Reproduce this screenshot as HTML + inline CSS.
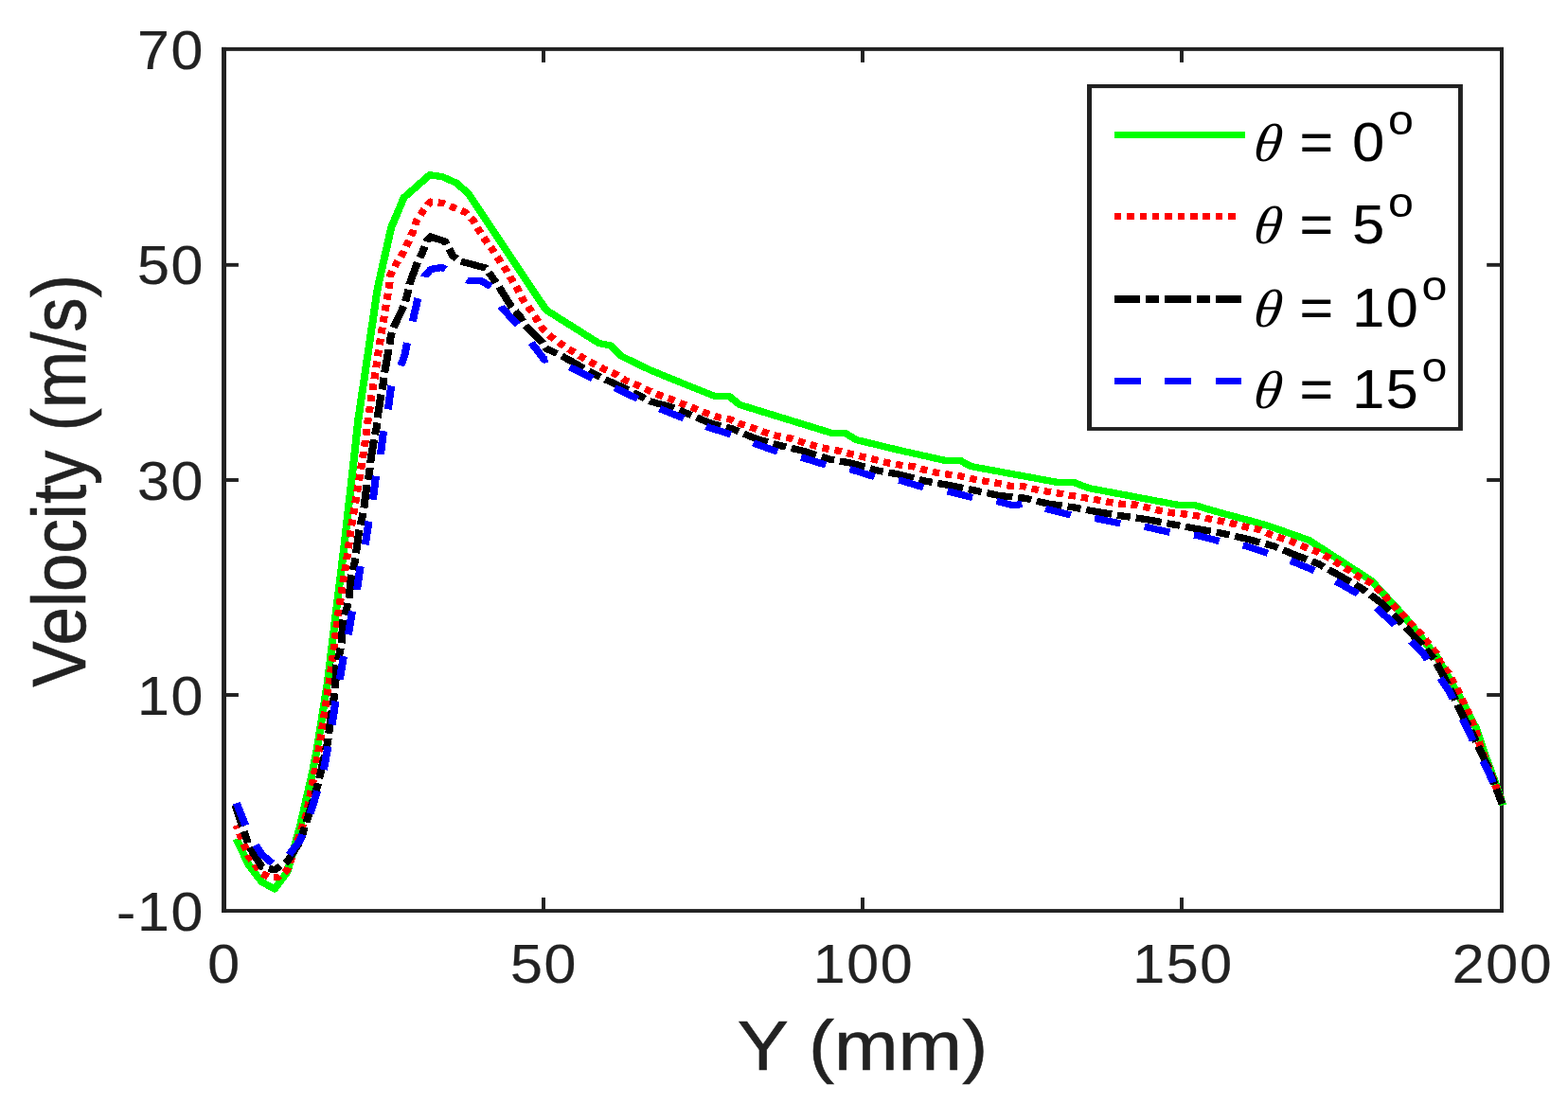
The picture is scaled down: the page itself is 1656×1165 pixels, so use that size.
<!DOCTYPE html>
<html lang="en"><head><meta charset="utf-8"><title>Velocity profile</title>
<style>html,body{margin:0;padding:0;background:#fff}body{width:1656px;height:1165px;overflow:hidden}svg{display:block}text{font-family:"Liberation Sans",Arial,Helvetica,sans-serif}.tk{font-size:56.7px;fill:#222;stroke:#222;stroke-width:.25px}.lb{font-size:73.3px;fill:#222;stroke:#222;stroke-width:.6px}.lg{font-size:56.7px;fill:#000;stroke:#000;stroke-width:.25px}.th{font-family:"Liberation Serif","DejaVu Serif",serif;font-style:italic}</style></head><body>
<svg width="1656" height="1165" viewBox="0 0 1656 1165" role="img" aria-label="Velocity versus Y for four angles">
<rect x="0" y="0" width="1656" height="1165" fill="#fff"/>
<g fill="#212121">
<rect x="234.00" y="49.90" width="1354.00" height="3.95"/>
<rect x="234.00" y="960.10" width="1354.00" height="3.85"/>
<rect x="234.05" y="49.90" width="4.95" height="914.05"/>
<rect x="1584.00" y="49.90" width="4.00" height="914.05"/>
<rect x="572.03" y="948.00" width="3.94" height="13.00"/>
<rect x="572.03" y="53.00" width="3.94" height="12.90"/>
<rect x="909.03" y="948.00" width="3.94" height="13.00"/>
<rect x="909.03" y="53.00" width="3.94" height="12.90"/>
<rect x="1246.03" y="948.00" width="3.94" height="13.00"/>
<rect x="1246.03" y="53.00" width="3.94" height="12.90"/>
<rect x="238.00" y="277.85" width="13.90" height="3.90"/>
<rect x="1570.20" y="277.85" width="14.80" height="3.90"/>
<rect x="238.00" y="505.05" width="13.90" height="3.90"/>
<rect x="1570.20" y="505.05" width="14.80" height="3.90"/>
<rect x="238.00" y="732.05" width="13.90" height="3.90"/>
<rect x="1570.20" y="732.05" width="14.80" height="3.90"/>
</g>
<g transform="scale(1.107 1)">
<g fill="none" stroke-linejoin="round" stroke-linecap="butt" stroke-width="7.30" shape-rendering="crispEdges">
<polyline stroke="#00ff00" points="225.38,886.0 237.58,914.0 249.77,931.5 261.97,939.0 274.16,921.0 286.36,872.5 298.19,815.3 302.98,787.5 312.56,720.0 320.23,650.0 327.91,581.0 335.14,510.0 341.92,442.0 351.17,372.5 360.16,305.0 366.98,271.2 373.17,240.6 385.28,208.8 409.89,184.8 421.86,186.6 435.86,193.5 447.38,205.2 478.77,257.6 510.39,310.0 521.14,327.5 571.36,362.5 582.66,365.0 592.82,376.2 621.05,391.2 650.41,404.5 682.02,418.5 695.57,418.5 705.74,427.5 749.77,442.5 793.81,457.5 806.78,457.5 816.40,464.4 858.18,475.6 901.08,486.2 915.76,486.2 925.93,492.5 966.58,500.8 1010.61,509.8 1025.29,509.8 1038.84,515.6 1124.66,533.5 1139.34,533.5 1163.05,541.2 1196.93,551.2 1210.48,555.6 1248.87,570.6 1308.13,613.1 1340.92,652.5 1370.82,693.8 1395.12,741.2 1408.67,770.0 1415.99,795.0 1422.76,815.0 1431.35,842.0 1433.60,850.4"/>
<polyline stroke="#ff0000" stroke-dasharray="6.75 5.3" stroke-dashoffset="3.25" points="225.38,871.8 237.58,905.0 249.77,922.5 257.45,926.8 265.13,926.8 274.16,918.8 286.36,880.0 292.32,860.0 300.36,815.0 304.88,787.5 314.45,717.5 317.52,693.1 321.59,657.5 324.66,633.8 328.00,610.0 331.44,586.2 334.46,561.9 337.85,538.1 341.55,514.4 344.99,490.6 348.33,466.9 351.17,443.1 354.34,419.4 357.95,395.6 361.11,371.2 364.50,347.5 368.11,323.8 371.50,301.2 372.63,290.0 378.86,276.9 385.05,266.2 389.57,255.6 394.08,244.4 397.47,233.1 403.70,222.5 410.48,213.1 422.31,214.4 433.06,219.4 444.35,224.4 451.67,233.1 457.32,243.8 463.50,254.4 470.28,264.4 476.51,275.0 482.75,285.0 488.35,295.6 494.04,305.6 499.10,316.9 505.87,327.0 512.10,337.5 518.29,348.1 526.20,356.2 535.77,363.8 545.39,370.6 555.56,377.5 565.72,383.8 576.42,390.0 587.17,395.0 596.75,401.9 608.04,406.9 618.79,412.5 629.54,417.5 640.83,421.9 651.54,426.9 662.24,431.2 672.99,436.0 684.82,440.6 696.70,443.1 707.41,448.1 719.29,452.5 730.58,456.9 741.87,460.6 754.29,463.1 765.04,466.9 776.33,470.6 788.17,473.8 800.00,476.2 811.29,479.4 823.17,482.5 835.05,485.6 846.88,488.8 859.30,491.2 870.60,492.5 881.89,496.2 893.77,499.4 905.06,501.2 917.43,503.1 929.31,506.2 941.19,508.5 953.03,510.6 964.32,513.5 976.74,513.8 988.03,516.9 999.91,519.4 1012.29,521.5 1024.16,523.8 1036.04,526.0 1047.34,528.1 1059.17,530.6 1071.59,532.5 1083.47,533.1 1094.76,536.2 1106.59,539.4 1119.02,541.9 1130.89,543.1 1142.73,545.0 1154.02,548.1 1165.85,550.6 1177.73,553.5 1189.61,556.9 1201.45,559.4 1211.61,564.4 1223.49,568.8 1234.78,573.1 1245.48,578.1 1257.36,583.1 1267.48,588.8 1277.10,595.6 1287.26,602.5 1296.84,609.4 1307.59,615.6 1316.08,623.8 1323.94,633.1 1331.89,642.5 1339.75,651.2 1347.11,660.0 1355.01,668.8 1362.33,679.4 1370.28,690.0 1374.21,700.0 1382.11,711.2 1386.63,721.2 1392.28,731.9 1396.79,743.8 1401.31,753.8 1405.83,766.2 1409.21,776.2 1412.01,787.5 1420.87,812.5 1430.26,840.0 1433.15,849.1"/>
<polyline stroke="#000000" stroke-dasharray="24.8 5.3 12.8 5.3" stroke-dashoffset="1.4" points="224.48,850.6 237.58,893.8 249.77,915.6 261.97,918.8 274.16,910.0 286.36,888.8 294.72,860.0 302.62,831.2 305.42,818.1 312.56,784.4 314.14,770.6 318.43,738.1 320.14,721.2 320.69,702.5 324.07,690.0 325.75,679.4 327.46,655.0 330.85,642.5 332.88,631.2 335.37,607.5 338.21,595.0 339.88,583.0 342.73,559.4 345.30,547.5 347.24,536.2 350.05,511.2 352.30,500.0 353.43,488.1 356.82,463.8 359.08,452.5 359.98,442.5 363.60,416.2 365.63,404.8 366.98,393.1 370.91,368.8 372.63,356.9 374.89,346.9 385.64,322.5 388.44,311.9 390.70,300.0 398.60,276.2 403.12,266.2 407.63,253.8 410.48,250.0 424.57,255.0 431.89,270.0 438.12,275.6 463.50,283.1 470.28,293.8 476.51,303.8 487.80,323.8 495.71,333.8 501.36,343.8 517.16,361.2 521.14,368.1 531.84,373.8 536.36,376.2 556.68,388.8 567.98,395.6 578.14,401.2 598.46,411.2 610.30,418.1 619.92,423.8 642.50,430.6 659.44,438.5 677.51,446.9 698.96,453.1 720.42,463.1 744.13,470.6 767.30,476.5 790.42,484.8 813.01,489.4 836.72,496.9 858.18,501.2 883.02,508.1 906.73,512.8 930.44,518.1 953.57,523.5 977.87,526.2 1000.45,532.2 1024.75,536.0 1038.84,539.0 1050.14,541.2 1072.18,545.2 1095.84,549.0 1119.60,554.0 1143.27,558.8 1167.03,563.5 1190.15,569.4 1215.54,576.9 1235.32,586.0 1257.90,595.6 1278.23,608.1 1299.10,621.5 1317.16,636.2 1334.69,655.5 1353.88,677.5 1368.56,696.2 1378.73,717.5 1386.63,735.0 1395.66,756.2 1400.18,765.0 1410.48,788.3 1420.69,812.9 1430.08,840.3 1433.15,849.1"/>
<polyline stroke="#0000ff" stroke-dasharray="25 23.2" stroke-dashoffset="-2.5" points="224.75,845.8 225.61,848.1 237.58,881.2 249.77,902.5 263.78,915.5 274.16,905.0 286.36,887.5 295.84,860.0 302.62,835.6 308.85,813.1 312.78,789.4 316.71,765.6 320.14,741.2 324.07,718.1 327.69,693.8 332.20,670.6 335.95,646.2 340.47,623.1 343.81,598.8 348.33,576.2 351.76,551.2 355.69,528.1 358.54,503.8 363.05,480.6 365.85,456.2 370.14,433.1 373.17,408.1 382.20,386.9 386.18,375.0 388.44,362.5 393.50,340.0 398.60,315.6 405.37,291.2 411.02,284.4 421.86,282.5 426.38,285.6 446.61,296.2 459.58,296.9 469.74,303.8 478.77,325.0 494.58,343.8 508.13,363.8 519.42,380.0 526.20,378.8 545.39,388.8 567.98,401.2 588.30,410.6 610.89,422.5 631.21,432.5 654.92,443.0 677.51,451.9 698.96,459.4 720.96,468.8 744.13,478.1 766.71,483.8 790.42,491.9 813.01,496.2 836.72,504.4 859.30,507.5 883.56,515.6 906.14,519.4 930.44,526.2 953.03,530.0 966.58,533.8 979.00,531.9 1000.45,538.1 1025.29,545.0 1047.88,548.1 1072.72,553.8 1094.76,556.9 1119.60,563.1 1142.73,565.6 1166.44,572.5 1189.61,576.9 1212.74,585.6 1234.78,593.8 1257.90,604.4 1277.10,615.6 1299.10,629.4 1315.49,644.4 1333.56,662.5 1357.27,689.4 1382.66,730.0 1401.90,773.8 1409.67,793.0 1420.23,815.5 1429.99,841.0 1432.79,848.2"/>
</g>
</g>
<text class="tk" text-anchor="middle" letter-spacing="1.5" transform="translate(236.90 1038.30) scale(1.075 1)">0</text>
<text class="tk" text-anchor="middle" letter-spacing="1.5" transform="translate(574.40 1038.30) scale(1.075 1)">50</text>
<text class="tk" text-anchor="middle" letter-spacing="1.5" transform="translate(911.90 1038.30) scale(1.075 1)">100</text>
<text class="tk" text-anchor="middle" letter-spacing="1.5" transform="translate(1249.40 1038.30) scale(1.075 1)">150</text>
<text class="tk" text-anchor="middle" letter-spacing="1.5" transform="translate(1586.90 1038.30) scale(1.075 1)">200</text>
<text class="tk" text-anchor="end" letter-spacing="1.5" transform="translate(216.00 72.80) scale(1.075 1)">70</text>
<text class="tk" text-anchor="end" letter-spacing="1.5" transform="translate(216.00 300.30) scale(1.075 1)">50</text>
<text class="tk" text-anchor="end" letter-spacing="1.5" transform="translate(216.00 527.80) scale(1.075 1)">30</text>
<text class="tk" text-anchor="end" letter-spacing="1.5" transform="translate(216.00 755.30) scale(1.075 1)">10</text>
<text class="tk" text-anchor="end" letter-spacing="1.5" transform="translate(216.00 982.80) scale(1.075 1)">-10</text>
<g transform="scale(1.107 1)">
<text class="lb" text-anchor="middle" x="822.94" y="1130.2">Y (mm)</text>
<text class="lb" font-size="72.6" style="font-size:72.6px" text-anchor="middle" transform="translate(81.57 508.0) rotate(-90)">Velocity (m/s)</text>
</g>
<rect x="1148" y="89" width="396.9" height="365.9" fill="#212121"/><rect x="1153.05" y="93.1" width="386.95" height="357.95" fill="#fff"/>
<g transform="scale(1.107 1)">
<g fill="none" stroke-linecap="butt" stroke-width="7.30" shape-rendering="crispEdges">
<line x1="1063.23" x2="1188.08" y1="142.5" y2="142.5" stroke="#00ff00"/>
<line x1="1063.23" x2="1178.43" y1="228.5" y2="228.5" stroke="#ff0000" stroke-dasharray="6.75 5.3"/>
<line x1="1063.23" x2="1188.08" y1="315.9" y2="315.9" stroke="#000000" stroke-dasharray="24.8 5.3 12.8 5.3"/>
<line x1="1063.23" x2="1188.08" y1="402.2" y2="402.2" stroke="#0000ff" stroke-dasharray="25 23.2"/>
</g>
</g>
<text class="lg th" style="font-size:56.5px;stroke:none" transform="translate(1322.60 170.40) scale(1.06 1) skewX(-7)">θ</text>
<text class="lg" text-anchor="start" letter-spacing="1.5" transform="translate(1372.50 170.40) scale(1.075 1)" xml:space="preserve">= 0<tspan style="font-size:45px;stroke:none" dx="2" dy="-28">o</tspan></text>
<text class="lg th" style="font-size:56.5px;stroke:none" transform="translate(1322.60 257.20) scale(1.06 1) skewX(-7)">θ</text>
<text class="lg" text-anchor="start" letter-spacing="1.5" transform="translate(1372.50 257.20) scale(1.075 1)" xml:space="preserve">= 5<tspan style="font-size:45px;stroke:none" dx="2" dy="-28">o</tspan></text>
<text class="lg th" style="font-size:56.5px;stroke:none" transform="translate(1322.60 344.60) scale(1.06 1) skewX(-7)">θ</text>
<text class="lg" text-anchor="start" letter-spacing="1.5" transform="translate(1372.50 344.60) scale(1.075 1)" xml:space="preserve">= 10<tspan style="font-size:45px;stroke:none" dx="2" dy="-28">o</tspan></text>
<text class="lg th" style="font-size:56.5px;stroke:none" transform="translate(1322.60 431.00) scale(1.06 1) skewX(-7)">θ</text>
<text class="lg" text-anchor="start" letter-spacing="1.5" transform="translate(1372.50 431.00) scale(1.075 1)" xml:space="preserve">= 15<tspan style="font-size:45px;stroke:none" dx="2" dy="-28">o</tspan></text>
</svg></body></html>
